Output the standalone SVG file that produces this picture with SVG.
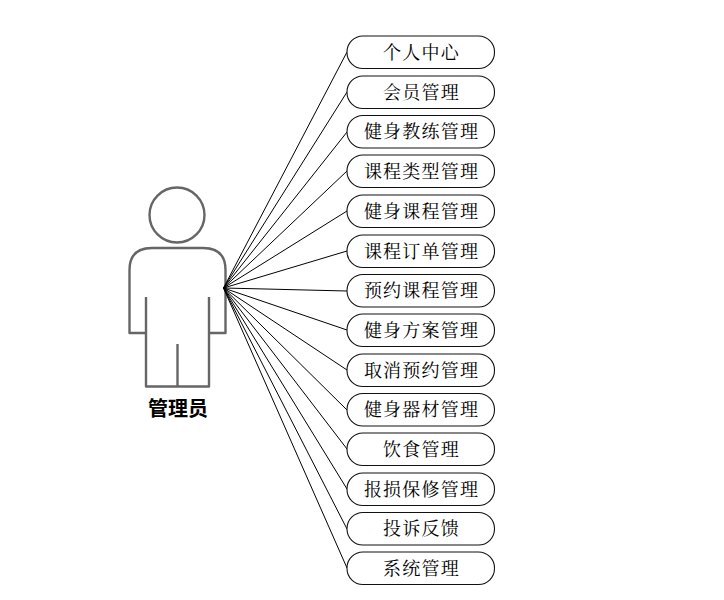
<svg xmlns="http://www.w3.org/2000/svg" width="724" height="600" viewBox="0 0 724 600">
<style>
.n{fill:#fff;stroke:#111;stroke-width:1.1}
.t{font-family:"Noto Serif CJK SC","Liberation Serif","Noto Sans CJK SC",serif;font-size:18px;letter-spacing:1.2px;text-anchor:middle;fill:#000}
.c line{stroke:#000;stroke-width:1}
.a{fill:#fff;stroke:#666;stroke-width:2.4;stroke-linejoin:round}
</style>
<rect width="724" height="600" fill="#fff"/>
<g id="actor">
<circle class="a" cx="177" cy="215" r="27.500"/>
<path class="a" d="M146 333H129.500V270Q129.500 248 152 248H203Q225.500 248 225.500 270V333H209M146 297V386.500H209V297M177.500 344V386.500"/>
<text x="178" y="416" style="font-family:'Noto Sans CJK SC',sans-serif;font-size:20px;font-weight:700;text-anchor:middle">管理员</text>
</g>
<g id="connectors" class="c">
<line x1="223.500" y1="288" x2="347" y2="52"/>
<line x1="223.500" y1="288" x2="347" y2="92"/>
<line x1="223.500" y1="288" x2="347" y2="132"/>
<line x1="223.500" y1="288" x2="347" y2="171"/>
<line x1="223.500" y1="288" x2="347" y2="211"/>
<line x1="223.500" y1="288" x2="347" y2="251"/>
<line x1="223.500" y1="288" x2="347" y2="291"/>
<line x1="223.500" y1="288" x2="347" y2="330"/>
<line x1="223.500" y1="288" x2="347" y2="370"/>
<line x1="223.500" y1="288" x2="347" y2="410"/>
<line x1="223.500" y1="288" x2="347" y2="449"/>
<line x1="223.500" y1="288" x2="347" y2="489"/>
<line x1="223.500" y1="288" x2="347" y2="529"/>
<line x1="223.500" y1="288" x2="347" y2="568"/>
</g>
<g id="n1"><rect class="n" x="347" y="36" width="147.500" height="32.500" rx="16"/><text class="t" x="421.500" y="58.500">个人中心</text></g>
<g id="n2"><rect class="n" x="347" y="76" width="147.500" height="32.500" rx="16"/><text class="t" x="421.500" y="98.500">会员管理</text></g>
<g id="n3"><rect class="n" x="347" y="115.500" width="147.500" height="32.500" rx="16"/><text class="t" x="421.500" y="138">健身教练管理</text></g>
<g id="n4"><rect class="n" x="347" y="155" width="147.500" height="32.500" rx="16"/><text class="t" x="421.500" y="178">课程类型管理</text></g>
<g id="n5"><rect class="n" x="347" y="195" width="147.500" height="32.500" rx="16"/><text class="t" x="421.500" y="218">健身课程管理</text></g>
<g id="n6"><rect class="n" x="347" y="235" width="147.500" height="32.500" rx="16"/><text class="t" x="421.500" y="258">课程订单管理</text></g>
<g id="n7"><rect class="n" x="347" y="274.500" width="147.500" height="32.500" rx="16"/><text class="t" x="421.500" y="297">预约课程管理</text></g>
<g id="n8"><rect class="n" x="347" y="314" width="147.500" height="32.500" rx="16"/><text class="t" x="421.500" y="337">健身方案管理</text></g>
<g id="n9"><rect class="n" x="347" y="354" width="147.500" height="32.500" rx="16"/><text class="t" x="421.500" y="377">取消预约管理</text></g>
<g id="n10"><rect class="n" x="347" y="393.500" width="147.500" height="32.500" rx="16"/><text class="t" x="421.500" y="416">健身器材管理</text></g>
<g id="n11"><rect class="n" x="347" y="433" width="147.500" height="32.500" rx="16"/><text class="t" x="421.500" y="456">饮食管理</text></g>
<g id="n12"><rect class="n" x="347" y="473" width="147.500" height="32.500" rx="16"/><text class="t" x="421.500" y="496">报损保修管理</text></g>
<g id="n13"><rect class="n" x="347" y="512.500" width="147.500" height="32.500" rx="16"/><text class="t" x="421.500" y="535">投诉反馈</text></g>
<g id="n14"><rect class="n" x="347" y="552" width="147.500" height="32.500" rx="16"/><text class="t" x="421.500" y="575">系统管理</text></g>
</svg>
